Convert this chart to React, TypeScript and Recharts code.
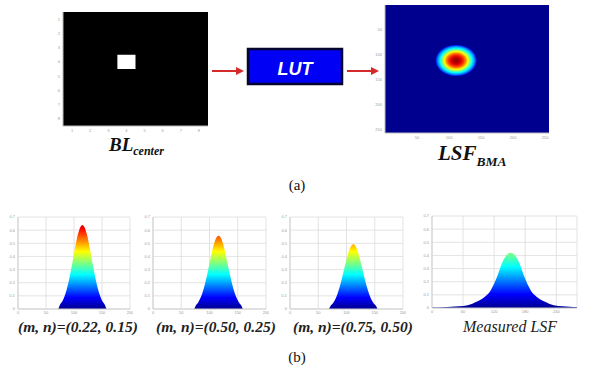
import {
  AreaChart,
  Area,
  XAxis,
  YAxis,
  CartesianGrid,
  ScatterChart,
  Scatter,
  ReferenceArea,
} from 'recharts';

// (a) input image: 8x8 binary pixels, one lit pixel
const blTicks = [1, 2, 3, 4, 5, 6, 7, 8];
const blBright = [{ col: 4, row: 4 }];

// (a) LSF map, 256x256, single peak
const lsfTicks = [50, 100, 150, 200, 250];
const lsfPeak = [{ x: 111, y: 111 }];

// (b) profiles
const profileXTicks = [0, 50, 100, 150, 200];
const profileYTicks = [0, 0.1, 0.2, 0.3, 0.4, 0.5, 0.6, 0.7];
const measuredXTicks = [0, 60, 120, 180, 240];

const p1X = [72, 75, 79, 83, 87, 91, 95, 99, 103, 107, 111, 115, 119, 123, 127, 131, 135, 139, 143, 147, 151, 155, 158];
const p1Y = [0, 0.033, 0.058, 0.096, 0.149, 0.219, 0.304, 0.398, 0.49, 0.568, 0.621, 0.64, 0.621, 0.568, 0.49, 0.398, 0.304, 0.219, 0.149, 0.096, 0.058, 0.033, 0];

const p2X = [73, 76, 80, 84, 88, 92, 96, 100, 104, 108, 112, 116, 120, 124, 128, 132, 136, 140, 144, 148, 152, 156, 159];
const p2Y = [0, 0.028, 0.05, 0.083, 0.13, 0.191, 0.265, 0.347, 0.427, 0.496, 0.542, 0.558, 0.542, 0.496, 0.427, 0.347, 0.265, 0.191, 0.13, 0.083, 0.05, 0.028, 0];

const p3X = [69, 72, 76, 80, 84, 88, 92, 96, 100, 104, 108, 112, 116, 120, 124, 128, 132, 136, 140, 144, 148, 152, 155];
const p3Y = [0, 0.025, 0.044, 0.073, 0.115, 0.169, 0.234, 0.306, 0.376, 0.437, 0.478, 0.492, 0.478, 0.437, 0.376, 0.306, 0.234, 0.169, 0.115, 0.073, 0.044, 0.025, 0];

const measX = [0, 22, 52, 69, 87, 97, 106, 112, 117, 122, 127, 132, 137, 142, 147, 152, 157, 162, 167, 172, 177, 182, 187, 192, 198, 207, 217, 235, 252, 280];
const measY = [0.003, 0.006, 0.013, 0.021, 0.049, 0.07, 0.098, 0.126, 0.161, 0.203, 0.252, 0.308, 0.357, 0.392, 0.413, 0.42, 0.413, 0.392, 0.357, 0.308, 0.252, 0.203, 0.161, 0.126, 0.098, 0.07, 0.049, 0.021, 0.013, 0.006];

const captions = ['(m, n)=(0.22, 0.15)', '(m, n)=(0.50, 0.25)', '(m, n)=(0.75, 0.50)', 'Measured LSF'];

const zip = (xs: number[], ys: number[]) => xs.map((x, i) => ({ x, y: ys[i] }));

const tickStyle = { fontSize: 4, fill: '#9a9a9a', fontFamily: 'Liberation Sans' };
const serif = 'Liberation Serif, Times New Roman, serif';

const jet = [
  ['0', '#00008f'],
  ['0.125', '#0000ff'],
  ['0.375', '#00ffff'],
  ['0.625', '#ffff00'],
  ['0.875', '#ff0000'],
  ['1', '#800000'],
];

interface ProfileProps {
  id: string;
  left: number;
  top: number;
  w: number;
  h: number;
  data: { x: number; y: number }[];
  xTicks: number[];
  xMax: number;
  colorTop: number; // fraction of plot height where the colormap tops out
}

function Profile({ id, left, top, w, h, data, xTicks, xMax, colorTop }: ProfileProps) {
  const m = { top: 3, right: 3, left: 0, bottom: 0 };
  const yBottom = m.top + h;
  const yTop = yBottom - h * colorTop;
  return (
    <div style={{ position: 'absolute', left: left - 10, top: top - m.top }}>
      <AreaChart width={10 + w + m.right} height={m.top + h + 9} data={data} margin={m}>
        <defs>
          <linearGradient id={id} gradientUnits="userSpaceOnUse" x1="0" y1={yBottom} x2="0" y2={yTop}>
            {jet.map(([o, c]) => (
              <stop key={o} offset={o} stopColor={c} />
            ))}
          </linearGradient>
        </defs>
        <CartesianGrid stroke="#dcdcdc" strokeWidth={0.8} />
        <XAxis
          type="number"
          dataKey="x"
          domain={[0, xMax]}
          ticks={xTicks}
          interval={0}
          height={9}
          tick={tickStyle}
          tickLine={false}
          tickSize={1}
          tickMargin={1}
          axisLine={{ stroke: '#cfcfcf' }}
          allowDataOverflow
        />
        <YAxis
          type="number"
          domain={[0, 0.7]}
          ticks={profileYTicks}
          interval={0}
          width={10}
          tick={tickStyle}
          tickLine={false}
          tickSize={2}
          tickMargin={1}
          axisLine={{ stroke: '#cfcfcf' }}
        />
        <Area
          type="monotone"
          dataKey="y"
          stroke="none"
          fill={`url(#${id})`}
          fillOpacity={1}
          isAnimationActive={false}
        />
      </AreaChart>
    </div>
  );
}

const spotShape = (props: any) => {
  const { cx, cy } = props;
  return <ellipse cx={cx} cy={cy} rx={21} ry={16} fill="url(#spotGrad)" />;
};

const hiddenShape = () => <g />;

export default function App() {
  return (
    <div style={{ position: 'absolute', left: 0, top: 0, width: 589, height: 367, background: '#fff', overflow: 'hidden' }}>
      {/* BL_center image */}
      <div style={{ position: 'absolute', left: 55, top: 10 }}>
        <ScatterChart width={155} height={126} margin={{ top: 2, right: 2, left: 0, bottom: 0 }}>
          <XAxis
            type="number"
            dataKey="col"
            domain={[0.5, 8.5]}
            ticks={blTicks}
            interval={0}
            height={10}
            tick={tickStyle}
            tickLine={false}
            tickSize={2}
            tickMargin={1}
            axisLine={{ stroke: '#bbb' }}
          />
          <YAxis
            type="number"
            dataKey="row"
            domain={[0.5, 8.5]}
            reversed
            ticks={blTicks}
            interval={0}
            width={8}
            tick={tickStyle}
            tickLine={false}
            tickSize={2}
            tickMargin={1}
            axisLine={{ stroke: '#bbb' }}
          />
          <ReferenceArea x1={0.5} x2={8.5} y1={0.5} y2={8.5} fill="#000" fillOpacity={1} stroke="none" />
          {blBright.map((p) => (
            <ReferenceArea
              key={`${p.col}-${p.row}`}
              x1={p.col - 0.5}
              x2={p.col + 0.5}
              y1={p.row - 0.5}
              y2={p.row + 0.5}
              fill="#fff"
              fillOpacity={1}
              stroke="none"
            />
          ))}
          <Scatter data={blBright} shape={hiddenShape} isAnimationActive={false} />
        </ScatterChart>
      </div>

      {/* LSF_BMA map */}
      <div style={{ position: 'absolute', left: 375, top: 3 }}>
        <ScatterChart width={178} height={141} margin={{ top: 2, right: 4, left: 0, bottom: 0 }}>
          <defs>
            <radialGradient id="spotGrad" cx="50%" cy="50%" r="50%">
              <stop offset="0" stopColor="#8a0000" />
              <stop offset="0.22" stopColor="#d00000" />
              <stop offset="0.36" stopColor="#ff3000" />
              <stop offset="0.48" stopColor="#ffa000" />
              <stop offset="0.56" stopColor="#ffff00" />
              <stop offset="0.66" stopColor="#80ff80" />
              <stop offset="0.76" stopColor="#00ffff" />
              <stop offset="0.87" stopColor="#0090ff" />
              <stop offset="0.95" stopColor="#0020f0" />
              <stop offset="1" stopColor="#00008f" />
            </radialGradient>
          </defs>
          <XAxis
            type="number"
            dataKey="x"
            domain={[0, 256]}
            ticks={lsfTicks}
            interval={0}
            height={11}
            tick={tickStyle}
            tickLine={false}
            tickSize={2}
            tickMargin={1}
            axisLine={{ stroke: '#bbb' }}
          />
          <YAxis
            type="number"
            dataKey="y"
            domain={[0, 256]}
            reversed
            ticks={lsfTicks}
            interval={0}
            width={10}
            tick={tickStyle}
            tickLine={false}
            tickSize={2}
            tickMargin={1}
            axisLine={{ stroke: '#bbb' }}
          />
          <ReferenceArea x1={0} x2={256} y1={0} y2={256} fill="#00008f" fillOpacity={1} stroke="none" />
          <Scatter data={lsfPeak} shape={spotShape} isAnimationActive={false} />
        </ScatterChart>
      </div>

      {/* (b) profiles */}
      <Profile id="g1" left={18} top={217} w={112} h={92} data={zip(p1X, p1Y)} xTicks={profileXTicks} xMax={200} colorTop={1} />
      <Profile id="g2" left={153} top={217} w={113} h={92} data={zip(p2X, p2Y)} xTicks={profileXTicks} xMax={200} colorTop={1} />
      <Profile id="g3" left={290} top={217} w={113} h={92} data={zip(p3X, p3Y)} xTicks={profileXTicks} xMax={200} colorTop={1} />
      <Profile id="g4" left={432} top={216} w={145} h={92} data={zip(measX, measY)} xTicks={measuredXTicks} xMax={280} colorTop={1.2} />

      {/* annotations */}
      <svg width={589} height={367} style={{ position: 'absolute', left: 0, top: 0, pointerEvents: 'none' }}>
        <g stroke="#d42a2a" strokeWidth={2}>
          <line x1={212} y1={71} x2={237} y2={71} />
          <line x1={347} y1={71} x2={372} y2={71} />
        </g>
        <polygon points="236,67 244,71 236,75" fill="#d42a2a" />
        <polygon points="371,67 379,71 371,75" fill="#d42a2a" />

        <rect x={248} y={49} width={94} height={35} fill="#0000f5" stroke="#050530" strokeWidth={2.5} />
        <text x={295} y={75} textAnchor="middle" fill="#fff" fontFamily="Liberation Sans, Arial, sans-serif" fontWeight="bold" fontStyle="italic" fontSize={18}>
          LUT
        </text>

        <text x={109} y={151} fontFamily={serif} fontWeight="bold" fontStyle="italic" fontSize={19} fill="#111">
          BL
          <tspan fontSize={12} dy={4}>center</tspan>
        </text>
        <text x={438} y={160} fontFamily={serif} fontWeight="bold" fontStyle="italic" fontSize={21} fill="#111">
          LSF
          <tspan fontSize={13.5} dy={5.5}>BMA</tspan>
        </text>

        <text x={297} y={190} textAnchor="middle" fontFamily={serif} fontSize={15} fill="#111">(a)</text>
        <text x={297} y={362} textAnchor="middle" fontFamily={serif} fontSize={15} fill="#111">(b)</text>

        {[18, 156, 293].map((x, i) => (
          <text key={i} x={x} y={332} fontFamily={serif} fontWeight="bold" fontStyle="italic" fontSize={15.5} fill="#222">
            {captions[i]}
          </text>
        ))}
        <text x={463} y={332} fontFamily={serif} fontStyle="italic" fontSize={16} fill="#222">
          {captions[3]}
        </text>
      </svg>
    </div>
  );
}
